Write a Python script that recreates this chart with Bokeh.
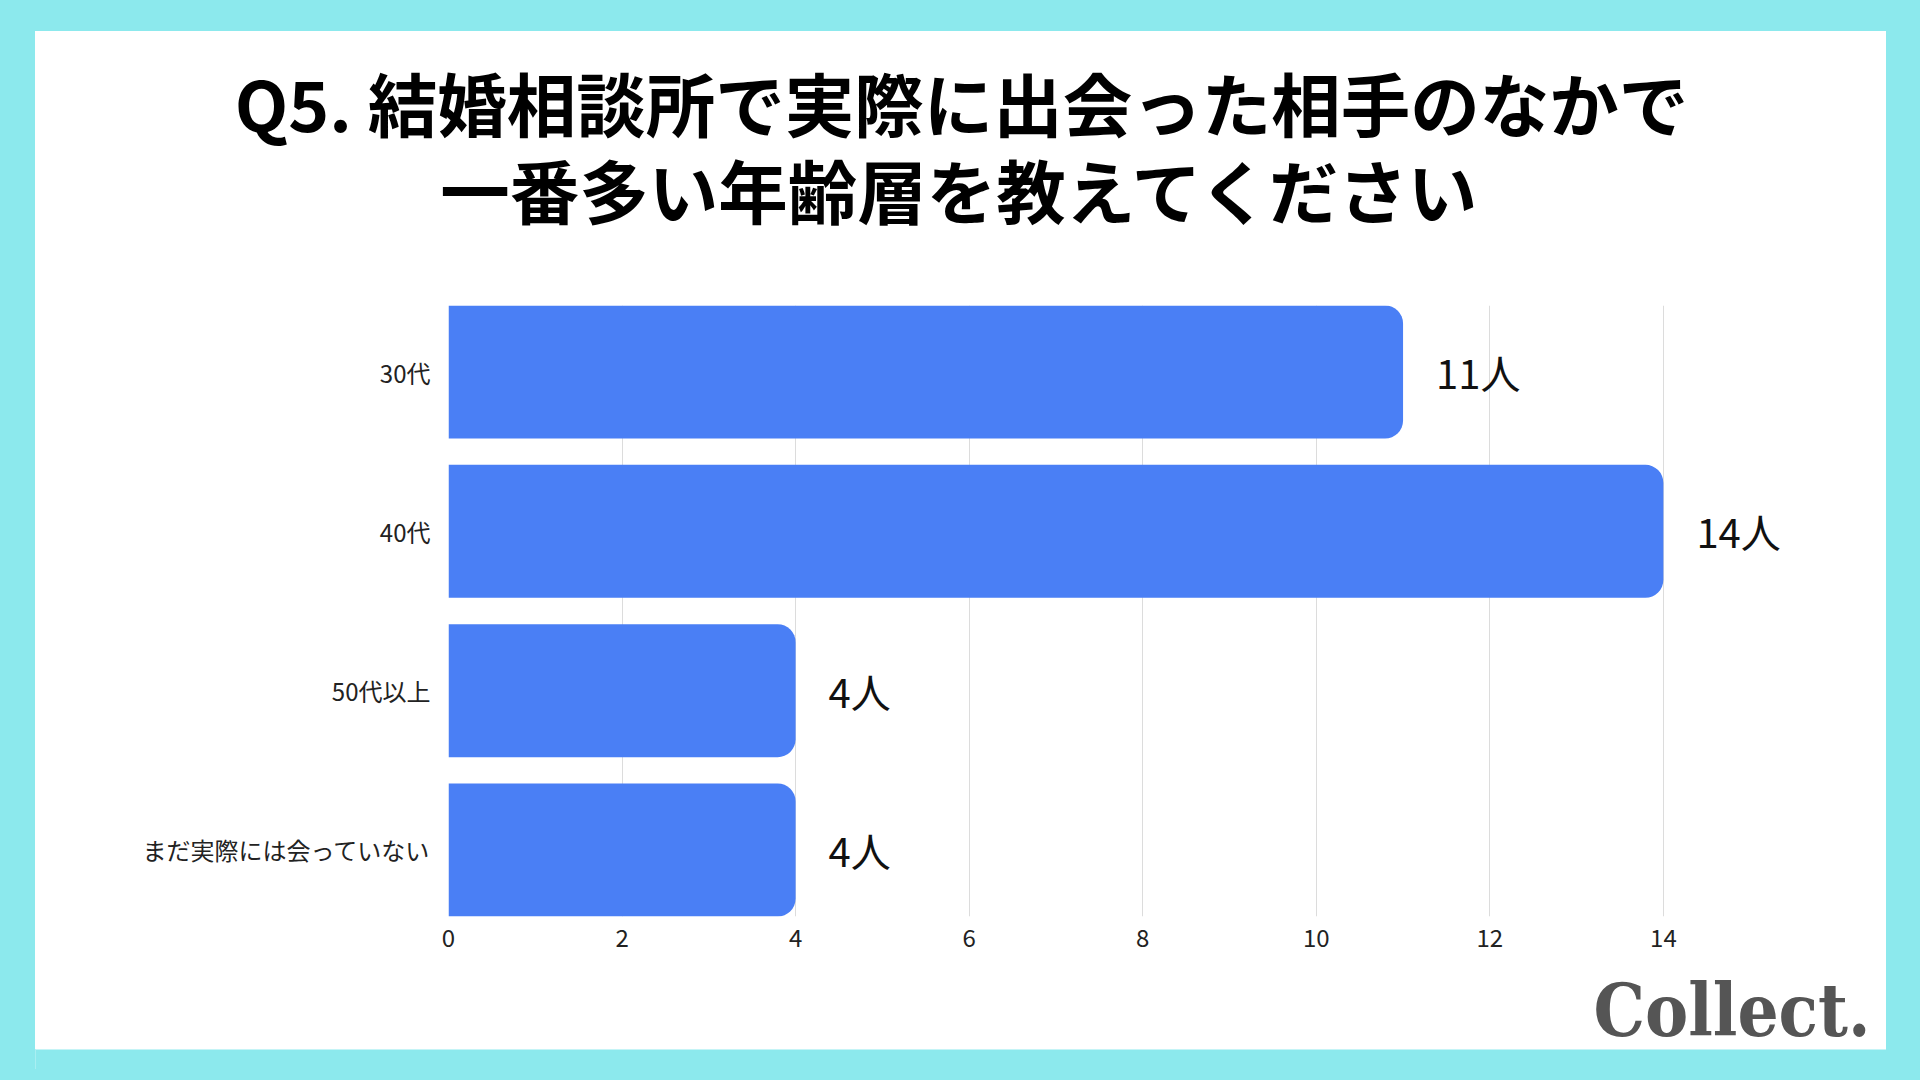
from bokeh.plotting import figure
from bokeh.models import Range1d, FixedTicker, ColumnDataSource
from bokeh.layouts import column
from bokeh.embed import file_html
from bokeh.resources import INLINE
from bokeh.core.properties import value

# ---- data ----
categories = ["30代", "40代", "50代以上", "まだ実際には会っていない"]
counts = [11, 14, 4, 4]
value_labels = ["11人", "14人", "4人", "4人"]
x_ticks = [0, 2, 4, 6, 8, 10, 12, 14]
title_lines = ["Q5. 結婚相談所で実際に出会った相手のなかで", "一番多い年齢層を教えてください"]
logo_text = "Collect."

# ---- style ----
JP = "Noto Sans CJK JP"
BAR_COLOR = "#4A7FF5"
BORDER_COLOR = "#8CE9ED"
BAR_H = 0.835
X_END = 15.58
PANEL_W = 1851


def blank_fig(h):
    f = figure(width=PANEL_W, height=h, output_backend="svg", toolbar_location=None,
               x_range=Range1d(0, PANEL_W), y_range=Range1d(h, 0),
               x_axis_location=None, y_axis_location=None, min_border=0,
               frame_align=False)
    f.grid.visible = False
    f.outline_line_color = None
    f.background_fill_color = "white"
    f.border_fill_color = "white"
    return f


# ---- title ----
TITLE_H = 250
t = blank_fig(TITLE_H)
tsrc = ColumnDataSource(dict(text=title_lines, x=[926, 926], y=[70, 157]))
t.text(x="x", y="y", text="text", source=tsrc, text_align="center", text_baseline="middle",
       text_font=value(JP), text_font_style="bold", text_font_size="69.5px", text_color="#000000")

# ---- chart ----
pos = list(range(len(categories)))
src = ColumnDataSource(dict(pos=pos, count=counts, label=value_labels, cat=categories))

p = figure(width=PANEL_W, height=684, output_backend="svg", toolbar_location=None,
           x_range=Range1d(0, X_END),
           y_range=Range1d(len(categories) - 1 + BAR_H / 2, -BAR_H / 2),
           min_border_left=413, min_border_right=86, min_border_top=24, min_border_bottom=49,
           frame_align=False)
p.background_fill_color = "white"
p.border_fill_color = "white"
p.outline_line_color = None

p.hbar(y="pos", left=0, right="count", height=BAR_H, source=src,
       fill_color=BAR_COLOR, line_color=None, border_radius=(0, 18, 18, 0))

p.text(x="count", y="pos", text="label", source=src, x_offset=33,
       text_align="left", text_baseline="middle",
       text_font=value(JP), text_font_size="40px", text_color="#111111")

p.xaxis.ticker = FixedTicker(ticks=x_ticks)
p.xaxis.axis_line_color = None
p.xaxis.major_tick_line_color = None
p.xaxis.minor_tick_line_color = None
p.xaxis.major_tick_out = 0
p.xaxis.major_tick_in = 0
p.xaxis.major_label_standoff = 12
p.xaxis.major_label_text_font = JP
p.xaxis.major_label_text_font_size = "24px"
p.xaxis.major_label_text_color = "#222222"

p.yaxis.ticker = FixedTicker(ticks=pos)
p.yaxis.major_label_overrides = {i: c for i, c in zip(pos, categories)}
p.yaxis.axis_line_color = None
p.yaxis.major_tick_line_color = None
p.yaxis.minor_tick_line_color = None
p.yaxis.major_tick_out = 0
p.yaxis.major_tick_in = 0
p.yaxis.major_label_standoff = 18
p.yaxis.major_label_text_font = JP
p.yaxis.major_label_text_font_size = "24px"
p.yaxis.major_label_text_color = "#222222"

p.xgrid.ticker = FixedTicker(ticks=x_ticks)
p.xgrid.grid_line_color = "#dcdcdc"
p.ygrid.grid_line_color = None

# ---- logo (bottom strip of this figure continues the cyan frame) ----
LOGO_WHITE_H = 84
LOGO_H = 104
lg = blank_fig(LOGO_H)
lg.quad(left=-10, right=PANEL_W + 10, top=LOGO_WHITE_H, bottom=LOGO_H + 10,
        fill_color=BORDER_COLOR, line_color=None)
lsrc = ColumnDataSource(dict(text=[logo_text], x=[1835], y=[45]))
lg.text(x="x", y="y", text="text", source=lsrc, text_align="right", text_baseline="alphabetic",
        text_font=value("'DejaVu Serif Condensed', 'DejaVu Serif'"), text_font_style="bold",
        text_font_size="72px", text_color="#555555")

WHITE_PX = TITLE_H + 684 + LOGO_WHITE_H
panel = column(t, p, lg, spacing=0, margin=(31, 34, 11, 35),
               styles={"background": f"linear-gradient(to bottom, white 0px, white {WHITE_PX}px, "
                                     f"{BORDER_COLOR} {WHITE_PX}px, {BORDER_COLOR} 100%)"})
layout = column(panel, styles={"background-color": BORDER_COLOR})

open("out.html", "w").write(file_html(layout, INLINE))
